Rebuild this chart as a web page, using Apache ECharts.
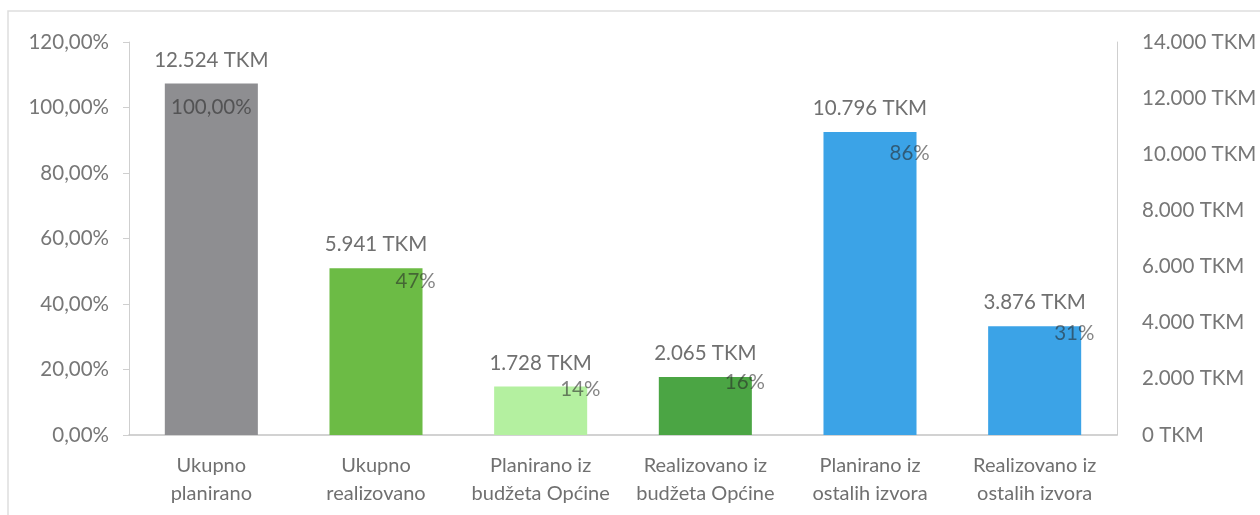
<!DOCTYPE html>
<html>
<head>
<meta charset="utf-8">
<script src="https://cdn.jsdelivr.net/npm/echarts@6/dist/echarts.min.js"></script>
<style>
html,body{margin:0;padding:0;background:#fff;}
#chart{width:1260px;height:515px;}
</style>
</head>
<body>
<div id="chart"></div>
<script>
var categories = ['Ukupno\nplanirano', 'Ukupno\nrealizovano', 'Planirano iz\nbudžeta Općine', 'Realizovano iz\nbudžeta Općine', 'Planirano iz\nostalih izvora', 'Realizovano iz\nostalih izvora'];
var tkmValues = [12524, 5941, 1728, 2065, 10796, 3876];
var pctValues = [1.00, 0.47, 0.14, 0.16, 0.86, 0.31];
var pctLabels = ['100,00%', '47%', '14%', '16%', '86%', '31%'];
var barColors = ['#8e8e91', '#6cbb45', '#b4f0a0', '#4ba544', '#3ba3e7', '#3ba3e7'];

var FONT = 'Lato';
function fmtThousands(v) {
  return String(Math.round(v)).replace(/\B(?=(\d{3})+(?!\d))/g, '.');
}

var chart = echarts.init(document.getElementById('chart'));
chart.setOption({
  animation: false,
  backgroundColor: '#fff',
  textStyle: { fontFamily: FONT },
  graphic: [{
    type: 'rect',
    shape: { x: 8, y: 11, width: 1400, height: 700 },
    style: { fill: 'none', stroke: '#dedede', lineWidth: 1.5 },
    silent: true
  }],
  grid: { left: 129, right: 143, top: 42, bottom: 80 },
  xAxis: {
    type: 'category',
    data: categories,
    axisLine: { show: true, lineStyle: { color: '#c4c4c4', width: 1.5 } },
    axisTick: { show: false },
    axisLabel: { color: '#707070', fontSize: 20, lineHeight: 28, margin: 17, fontFamily: FONT, interval: 0 }
  },
  yAxis: [{
    type: 'value',
    min: 0, max: 1.2, interval: 0.2,
    position: 'left',
    axisLine: { show: true, lineStyle: { color: '#cfcfcf', width: 1 } },
    axisTick: { show: true, length: 6, lineStyle: { color: '#cfcfcf' } },
    splitLine: { show: false },
    axisLabel: {
      color: '#777', fontSize: 20.5, margin: 20, fontFamily: FONT,
      formatter: function (v) { return (v * 100).toFixed(2).replace('.', ',') + '%'; }
    }
  }, {
    type: 'value',
    min: 0, max: 14000, interval: 2000,
    position: 'right',
    axisLine: { show: true, lineStyle: { color: '#cfcfcf', width: 1 } },
    axisTick: { show: false },
    splitLine: { show: false },
    axisLabel: {
      color: '#777', fontSize: 20.5, margin: 25, fontFamily: FONT,
      formatter: function (v) { return fmtThousands(v) + ' TKM'; }
    }
  }],
  series: [{
    type: 'bar',
    yAxisIndex: 1,
    barWidth: '56.5%',
    data: tkmValues.map(function (v, i) {
      return { value: v, itemStyle: { color: barColors[i] } };
    }),
    label: {
      show: true, position: 'top', distance: 13,
      color: '#707070', fontSize: 20.5, fontFamily: FONT,
      formatter: function (p) { return fmtThousands(p.value) + ' TKM'; }
    }
  }, {
    type: 'scatter',
    yAxisIndex: 0,
    symbolSize: 1,
    itemStyle: { color: 'rgba(0,0,0,0)' },
    z: 5,
    data: pctValues.map(function (v, i) {
      var d = { value: v };
      if (i === 0) d.label = { position: 'inside' };
      return d;
    }),
    label: {
      show: true, position: 'right', distance: 19,
      color: 'rgba(40,40,40,0.72)', fontSize: 20.5, fontFamily: FONT,
      formatter: function (p) { return pctLabels[p.dataIndex]; }
    }
  }]
});
</script>
</body>
</html>
